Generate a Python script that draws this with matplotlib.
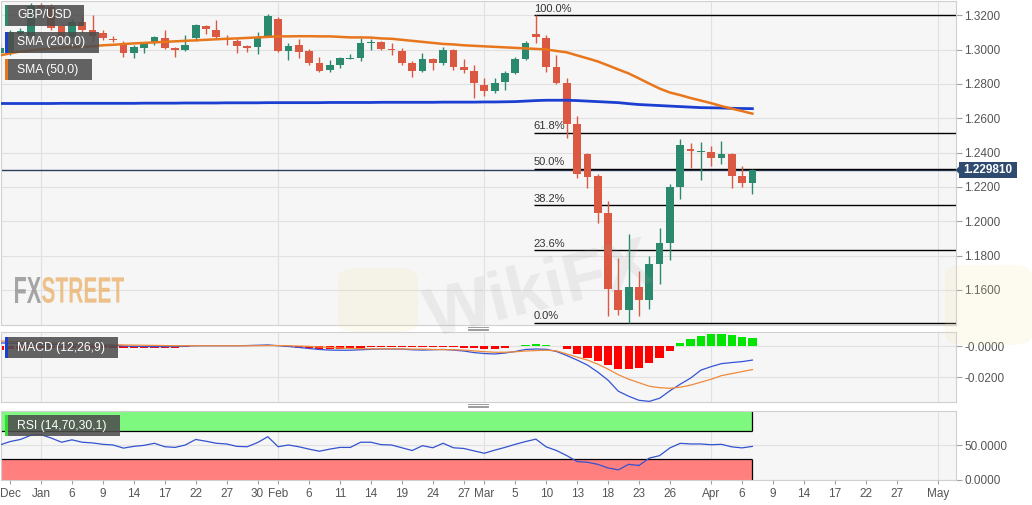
import matplotlib
matplotlib.use("Agg")
import matplotlib.pyplot as plt
from matplotlib.patches import Rectangle, Polygon, PathPatch, FancyBboxPatch
from matplotlib.lines import Line2D
from matplotlib.textpath import TextPath
from matplotlib.font_manager import FontProperties
from matplotlib.transforms import Affine2D
import numpy as np

plt.rcParams['font.family'] = ['Liberation Sans', 'DejaVu Sans']

W, H = 1032, 505

# trading-day index, 0 = Jan 1 2020 (Dec 26 .. Apr 7)
day_idx = list(range(-4, 70))

opens = [1.2978, 1.2985, 1.3089, 1.3077, 1.3253, 1.3247, 1.3136, 1.3071, 1.3159, 1.3112,
         1.3095, 1.3062, 1.3036, 1.2978, 1.3007, 1.3036, 1.3065, 1.3007, 1.2995, 1.3065,
         1.3136, 1.3112, 1.3062, 1.3048, 1.3019, 1.3013, 1.3077, 1.3177, 1.2989, 1.3025,
         1.2989, 1.2919, 1.2884, 1.2908, 1.2946, 1.2949, 1.3036, 1.3042, 1.3001, 1.2989,
         1.2919, 1.2873, 1.2943, 1.2919, 1.2995, 1.2896, 1.2878, 1.2796, 1.2761, 1.2814,
         1.2861, 1.2943, 1.3089, 1.3065, 1.2896, 1.2808, 1.2568, 1.2393, 1.2264, 1.2048,
         1.1598, 1.1481, 1.1615, 1.1539, 1.1750, 1.1872, 1.2200, 1.2422, 1.2403, 1.2405,
         1.2370, 1.2393, 1.2264, 1.2223]
highs = [1.3030, 1.3112, 1.3124, 1.3270, 1.3270, 1.3264, 1.3147, 1.3177, 1.3188, 1.3200,
         1.3112, 1.3077, 1.3048, 1.3025, 1.3042, 1.3077, 1.3112, 1.3013, 1.3083, 1.3147,
         1.3142, 1.3171, 1.3083, 1.3060, 1.3025, 1.3101, 1.3206, 1.3188, 1.3036, 1.3060,
         1.3001, 1.2954, 1.2937, 1.2954, 1.2972, 1.3065, 1.3060, 1.3048, 1.3036, 1.3007,
         1.2931, 1.2978, 1.2949, 1.3013, 1.3001, 1.2943, 1.2908, 1.2837, 1.2832, 1.2878,
         1.2954, 1.3048, 1.3200, 1.3083, 1.2966, 1.2837, 1.2615, 1.2400, 1.2276, 1.2118,
         1.1785, 1.1925, 1.1709, 1.1796, 1.1960, 1.2218, 1.2481, 1.2457, 1.2463, 1.2440,
         1.2469, 1.2399, 1.2323, 1.2305]
lows = [1.2966, 1.2966, 1.3071, 1.3071, 1.3229, 1.3112, 1.3054, 1.3065, 1.3095, 1.3042,
        1.3054, 1.3042, 1.2954, 1.2949, 1.2978, 1.3025, 1.3001, 1.2954, 1.2989, 1.3048,
        1.3089, 1.3065, 1.3025, 1.2978, 1.2984, 1.2972, 1.3071, 1.2984, 1.2937, 1.2949,
        1.2913, 1.2867, 1.2867, 1.2890, 1.2943, 1.2931, 1.2995, 1.2995, 1.2966, 1.2908,
        1.2843, 1.2867, 1.2884, 1.2908, 1.2884, 1.2861, 1.2720, 1.2732, 1.2750, 1.2767,
        1.2855, 1.2937, 1.3036, 1.2867, 1.2802, 1.2487, 1.2253, 1.2194, 1.1989, 1.1446,
        1.1457, 1.1409, 1.1446, 1.1492, 1.1633, 1.1773, 1.2130, 1.2311, 1.2241, 1.2323,
        1.2335, 1.2194, 1.2200, 1.2159]
closes = [1.3007, 1.3101, 1.3106, 1.3253, 1.3241, 1.3124, 1.3071, 1.3159, 1.3112, 1.3077,
          1.3065, 1.3058, 1.2978, 1.3013, 1.3036, 1.3071, 1.3007, 1.2995, 1.3025, 1.3142,
          1.3118, 1.3071, 1.3058, 1.3019, 1.3007, 1.3071, 1.3194, 1.2989, 1.3019, 1.2984,
          1.2919, 1.2873, 1.2908, 1.2949, 1.2952, 1.3036, 1.3042, 1.3001, 1.2995, 1.2919,
          1.2873, 1.2943, 1.2919, 1.2995, 1.2896, 1.2884, 1.2808, 1.2761, 1.2808, 1.2861,
          1.2943, 1.3036, 1.3071, 1.2896, 1.2808, 1.2568, 1.2276, 1.2258, 1.2048, 1.1604,
          1.1481, 1.1615, 1.1539, 1.1750, 1.1872, 1.2200, 1.2446, 1.2411, 1.2408, 1.2370,
          1.2393, 1.2264, 1.2223, 1.22981]

sma50 = [1.2966, 1.2978, 1.2989, 1.2995, 1.3001, 1.3007, 1.3010, 1.3013, 1.3016, 1.3019,
         1.3025, 1.3028, 1.3032, 1.3036, 1.3039, 1.3042, 1.3045, 1.3048, 1.3051, 1.3054,
         1.3057, 1.3060, 1.3063, 1.3065, 1.3068, 1.3071, 1.3074, 1.3077, 1.3077, 1.3078,
         1.3078, 1.3077, 1.3077, 1.3074, 1.3071, 1.3071, 1.3070, 1.3065, 1.3063, 1.3057,
         1.3051, 1.3045, 1.3039, 1.3033, 1.3030, 1.3025, 1.3022, 1.3019, 1.3016, 1.3013,
         1.3010, 1.3007, 1.3004, 1.3001, 1.2992, 1.2984, 1.2966, 1.2949, 1.2931, 1.2908,
         1.2884, 1.2861, 1.2832, 1.2802, 1.2773, 1.2750, 1.2735, 1.2718, 1.2703, 1.2688,
         1.2671, 1.2656, 1.2642, 1.2627]
sma200 = [1.2686, 1.2686, 1.2686, 1.2686, 1.2686, 1.2686, 1.2687, 1.2687, 1.2687, 1.2687,
          1.2687, 1.2687, 1.2687, 1.2687, 1.2688, 1.2688, 1.2688, 1.2688, 1.2689, 1.2689,
          1.2689, 1.2689, 1.2690, 1.2690, 1.2690, 1.2690, 1.2691, 1.2691, 1.2691, 1.2691,
          1.2691, 1.2691, 1.2692, 1.2692, 1.2692, 1.2692, 1.2692, 1.2693, 1.2693, 1.2693,
          1.2693, 1.2693, 1.2693, 1.2694, 1.2694, 1.2694, 1.2694, 1.2695, 1.2695, 1.2696,
          1.2697, 1.2700, 1.2703, 1.2705, 1.2705, 1.2705, 1.2703, 1.2700, 1.2697, 1.2694,
          1.2691, 1.2685, 1.2680, 1.2677, 1.2674, 1.2671, 1.2668, 1.2665, 1.2662, 1.2661,
          1.2660, 1.2658, 1.2657, 1.2656]

macd_line = [0.0021, 0.0019, 0.0017, 0.0014, 0.0013, 0.0012, 0.0010, 0.0009, 0.0008, 0.0008,
             0.0006, 0.0005, 0.0001, -0.0001, -0.0002, -0.0003, -0.0003, -0.0002, 0.0000, 0.0003,
             0.0003, 0.0003, 0.0003, 0.0003, 0.0004, 0.0006, 0.0008, 0.0003, -0.0002, -0.0008,
             -0.0015, -0.0021, -0.0025, -0.0026, -0.0026, -0.0023, -0.0020, -0.0018, -0.0018, -0.0019,
             -0.0023, -0.0025, -0.0023, -0.0021, -0.0025, -0.0031, -0.0041, -0.0047, -0.0050, -0.0044,
             -0.0034, -0.0021, -0.0018, -0.0020, -0.0034, -0.0060, -0.0089, -0.0121, -0.0166, -0.0218,
             -0.0289, -0.0321, -0.0347, -0.0354, -0.0334, -0.0286, -0.0244, -0.0205, -0.0154, -0.0131,
             -0.0112, -0.0105, -0.0099, -0.0089]
macd_signal = [0.0034, 0.0030, 0.0027, 0.0024, 0.0022, 0.0020, 0.0018, 0.0016, 0.0014, 0.0013,
               0.0012, 0.0010, 0.0008, 0.0007, 0.0006, 0.0005, 0.0004, 0.0003, 0.0003, 0.0003,
               0.0003, 0.0003, 0.0003, 0.0003, 0.0003, 0.0003, 0.0004, 0.0004, 0.0003, 0.0001,
               -0.0001, -0.0005, -0.0008, -0.0012, -0.0014, -0.0016, -0.0017, -0.0017, -0.0017, -0.0018,
               -0.0019, -0.0019, -0.0021, -0.0022, -0.0023, -0.0025, -0.0030, -0.0035, -0.0039, -0.0039,
               -0.0036, -0.0031, -0.0028, -0.0026, -0.0030, -0.0050, -0.0070, -0.0089, -0.0115, -0.0147,
               -0.0183, -0.0212, -0.0234, -0.0257, -0.0266, -0.0270, -0.0263, -0.0250, -0.0231, -0.0212,
               -0.0189, -0.0176, -0.0163, -0.0150]
macd_hist = [-0.0026, -0.0019, -0.0016, -0.0013, -0.0013, -0.0013, -0.0010, -0.0010, -0.0010, -0.0010,
             -0.0010, -0.0010, -0.0013, -0.0013, -0.0013, -0.0013, -0.0013, -0.0010, -0.0006, -0.0002,
             -0.0002, -0.0002, -0.0002, -0.0002, -0.0002, 0.0003, 0.0006, -0.0001, -0.0006, -0.0010,
             -0.0013, -0.0016, -0.0016, -0.0016, -0.0013, -0.0010, -0.0006, -0.0006, -0.0006, -0.0006,
             -0.0006, -0.0006, -0.0006, -0.0003, -0.0006, -0.0010, -0.0013, -0.0016, -0.0016, -0.0010,
             0.0003, 0.0010, 0.0013, 0.0010, 0.0003, -0.0017, -0.0050, -0.0073, -0.0095, -0.0123,
             -0.0145, -0.0145, -0.0139, -0.0110, -0.0077, -0.0028, 0.0022, 0.0048, 0.0064, 0.0075,
             0.0077, 0.0070, 0.0059, 0.0055]

rsi = [50, 55, 58, 64, 65, 60, 54, 57.5, 54, 53,
       51, 50, 45.5, 48, 49.5, 52.5, 47.5, 46.5, 50, 58,
       55.5, 52.5, 51.5, 48, 47.5, 53.5, 62, 47.5, 50, 47.5,
       44, 41, 44, 46.5, 46.5, 54, 54, 50.5, 50, 46,
       42, 49, 46, 52.5, 46, 45, 41.5, 38, 42.5, 46.5,
       51, 55, 58.5, 47.3, 42, 34.6, 26, 25, 22, 16.7,
       14, 22, 20.3, 31, 34.6, 45.8, 52.4, 51.5, 51.5, 50.4,
       51, 47.3, 45.8, 48]

tick_pos = [-3, 0, 3, 6, 9, 12, 15, 18, 21, 23, 26, 29, 32, 35, 38, 41, 43, 46, 49, 52,
            55, 58, 61, 65, 68, 71, 74, 77, 80, 83, 87]
tick_labels = ['Dec', 'Jan', '6', '9', '14', '17', '22', '27', '30', 'Feb', '6', '11', '14', '19',
               '24', '27', 'Mar', '5', '10', '13', '18', '23', '26', 'Apr', '6', '9', '14', '17',
               '22', '27', 'May']
month_pos = [0, 23, 43, 65, 87]
price_ticks = [1.16, 1.18, 1.20, 1.22, 1.24, 1.26, 1.28, 1.30, 1.32]
fib_start = 48          # Mar 9 swing high
fib_ratios = [0.0, 0.236, 0.382, 0.5, 0.618, 1.0]

GREEN = '#2b8a6d'
RED = '#db5842'
BLUE = '#1b3fd1'
ORANGE = '#e8761c'


def fx(px):
    return px / W


def fy(py):
    return 1 - py / H


fig = plt.figure(figsize=(W / 100, H / 100), dpi=100)
fig.patch.set_facecolor('white')

ax = fig.add_axes([fx(1), fy(325), fx(955), 324 / H])
ax_macd = fig.add_axes([fx(1), fy(402), fx(955), 70 / H])
ax_rsi = fig.add_axes([fx(1), fy(479.5), fx(955), 69 / H])

XMIN, XMAX = -3.88, 88.75

for a in (ax, ax_macd, ax_rsi):
    a.set_facecolor('#f6f6f6')
    a.set_xlim(XMIN, XMAX)
    for s in a.spines.values():
        s.set_color('#d0d0d0')
    a.yaxis.tick_right()
    a.tick_params(axis='y', length=4, width=0.8, color='#a0a0a0', labelsize=8.5,
                  labelcolor='#555555', pad=2)
    a.tick_params(axis='x', bottom=False, labelbottom=False)
    a.grid(axis='y', color='#e1e1e1', lw=0.8)
    a.set_axisbelow(True)
    for m in month_pos:
        a.axvline(m, color='#e1e1e1', lw=0.8, zorder=0)

# ---- price panel
x = np.array(day_idx)
o, h, l, c = map(np.array, (opens, highs, lows, closes))
col = np.where(c >= o, GREEN, RED)
ax.vlines(x, l, h, colors=col, lw=1, zorder=3)
ax.bar(x, np.maximum(np.abs(c - o), 0.0004), bottom=np.minimum(o, c), width=0.75,
       color=col, lw=0, zorder=4)
ax.plot(x, sma200, color=BLUE, lw=2, zorder=5)
ax.plot(x, sma50, color=ORANGE, lw=1.8, zorder=5)
ax.axhline(closes[-1], color='#2c3f5f', lw=1, zorder=2)

k = day_idx.index(fib_start)
fib_hi = highs[k]
fib_lo = min(lows[k:])
for r in fib_ratios:
    lvl = fib_lo + r * (fib_hi - fib_lo)
    ax.hlines(lvl, fib_start - 0.2, XMAX, color='black', lw=1, zorder=2)
    ax.annotate(f'{r * 100:.1f}%', (fib_start - 0.2, lvl), xytext=(0, 1.2),
                textcoords='offset points', fontsize=8, color='#333333', va='bottom', ha='left')

ax.set_ylim(1.1396, 1.3283)
ax.set_yticks(price_ticks)
ax.set_yticklabels([f'{v:.4f}' for v in price_ticks])

# ---- MACD panel
hcol = np.where(np.array(macd_hist) >= 0, '#00e600', '#ff0000')
ax_macd.bar(x, macd_hist, width=0.8, color=hcol, lw=0, zorder=2)
ax_macd.plot(x, macd_line, color='#3654d6', lw=0.9, zorder=3)
ax_macd.plot(x, macd_signal, color='#f08a3c', lw=0.9, zorder=3)
ax_macd.set_ylim(-0.0358, 0.0091)
ax_macd.set_yticks([-0.02, 0.0])
ax_macd.set_yticklabels(['-0.0200', '-0.0000'])

# ---- RSI panel
last = day_idx[-1]
ax_rsi.add_patch(Rectangle((XMIN, 70), last - XMIN, 30, fc='#7ef87e', lw=0, zorder=1))
ax_rsi.add_patch(Rectangle((XMIN, 0), last - XMIN, 30, fc='#ff7f7f', lw=0, zorder=1))
ax_rsi.hlines([70, 30], XMIN, last, color='black', lw=0.9, zorder=2)
ax_rsi.vlines(last, 70, 100, color='black', lw=0.9, zorder=2)
ax_rsi.vlines(last, 0, 30, color='black', lw=0.9, zorder=2)
ax_rsi.plot(x, rsi, color='#3352cf', lw=0.9, zorder=3)
ax_rsi.set_ylim(0, 100)
ax_rsi.set_yticks([0, 50])
ax_rsi.set_yticklabels(['0.0000', '50.0000'])
ax_rsi.set_xticks(tick_pos)
ax_rsi.set_xticklabels(tick_labels)
ax_rsi.tick_params(axis='x', bottom=True, labelbottom=True, length=3, width=0.8,
                   color='#a0a0a0', labelsize=8.5, labelcolor='#555555', pad=3)


# ---- indicator labels
def label_box(x0, y0, x1, y1, text, strip):
    fig.add_artist(Rectangle((fx(x0), fy(y1)), fx(x1 - x0), (y1 - y0) / H,
                             transform=fig.transFigure, fc='#4d4d4d', alpha=0.88, lw=0, zorder=10))
    fig.add_artist(Rectangle((fx(x0), fy(y1)), fx(2.5), (y1 - y0) / H,
                             transform=fig.transFigure, fc=strip, lw=0, zorder=11))
    fig.text(fx(17), fy((y0 + y1) / 2), text, color='white', fontsize=8.7,
             va='center', ha='left', zorder=12)


label_box(5, 5, 84, 26, 'GBP/USD', GREEN)
label_box(5, 32, 99, 53, 'SMA (200,0)', BLUE)
label_box(5, 59, 92, 80, 'SMA (50,0)', ORANGE)
label_box(5, 337, 118, 358, 'MACD (12,26,9)', BLUE)
label_box(5, 415, 120, 436, 'RSI (14,70,30,1)', '#33dd33')

# ---- current price tag
yd = ax.transData.transform((0, closes[-1]))[1]
yc = H - yd
navy = '#2e4a6e'
fig.add_artist(Rectangle((fx(959), fy(yc + 8)), fx(58), 16 / H, transform=fig.transFigure,
                         fc=navy, lw=0, zorder=10))
fig.add_artist(Polygon([(fx(955.5), fy(yc)), (fx(959.5), fy(yc - 4)), (fx(959.5), fy(yc + 4))],
                       transform=fig.transFigure, fc=navy, lw=0, zorder=10))
fig.text(fx(988), fy(yc), f'{closes[-1]:.6f}', color='white', fontsize=8.5, weight='bold',
         ha='center', va='center', zorder=11)

# ---- watermarks
fp = FontProperties(family='Liberation Sans', weight='bold')
for word, x0, wdt, colr in (('FX', 15, 26, '#8a8a8a'), ('STREET', 42, 82, '#ebae66')):
    tp = TextPath((0, 0), word, size=10, prop=fp)
    e = tp.get_extents()
    tr = Affine2D().translate(-e.x0, -e.y0).scale(wdt / e.width, 26 / e.height).translate(x0, H - 303)
    fig.add_artist(PathPatch(tp, transform=tr, fc=colr, ec='none', alpha=0.75, zorder=9))

for bx0, by0, bx1, by1 in ((338, 268, 418, 332), (945, 265, 1032, 345)):
    fig.add_artist(FancyBboxPatch((fx(bx0), fy(by1)), fx(bx1 - bx0), (by1 - by0) / H,
                                  boxstyle='round,pad=0,rounding_size=0.02',
                                  transform=fig.transFigure, fc='#f3dc98', ec='none',
                                  alpha=0.14, zorder=8))
fig.text(fx(540), fy(292), 'WikiFX', fontsize=50, color='#9a9a9a', alpha=0.14,
         rotation=14, weight='bold', ha='center', va='center', zorder=8)

# panel resize handles
for ys in ((327, 328.5, 330), (404, 405.5, 407)):
    for yy in ys:
        fig.add_artist(Line2D([fx(468), fx(488)], [fy(yy), fy(yy)], transform=fig.transFigure,
                              color='#8c8c8c', lw=0.6, zorder=9))

fig.savefig('out.png', dpi=100)
